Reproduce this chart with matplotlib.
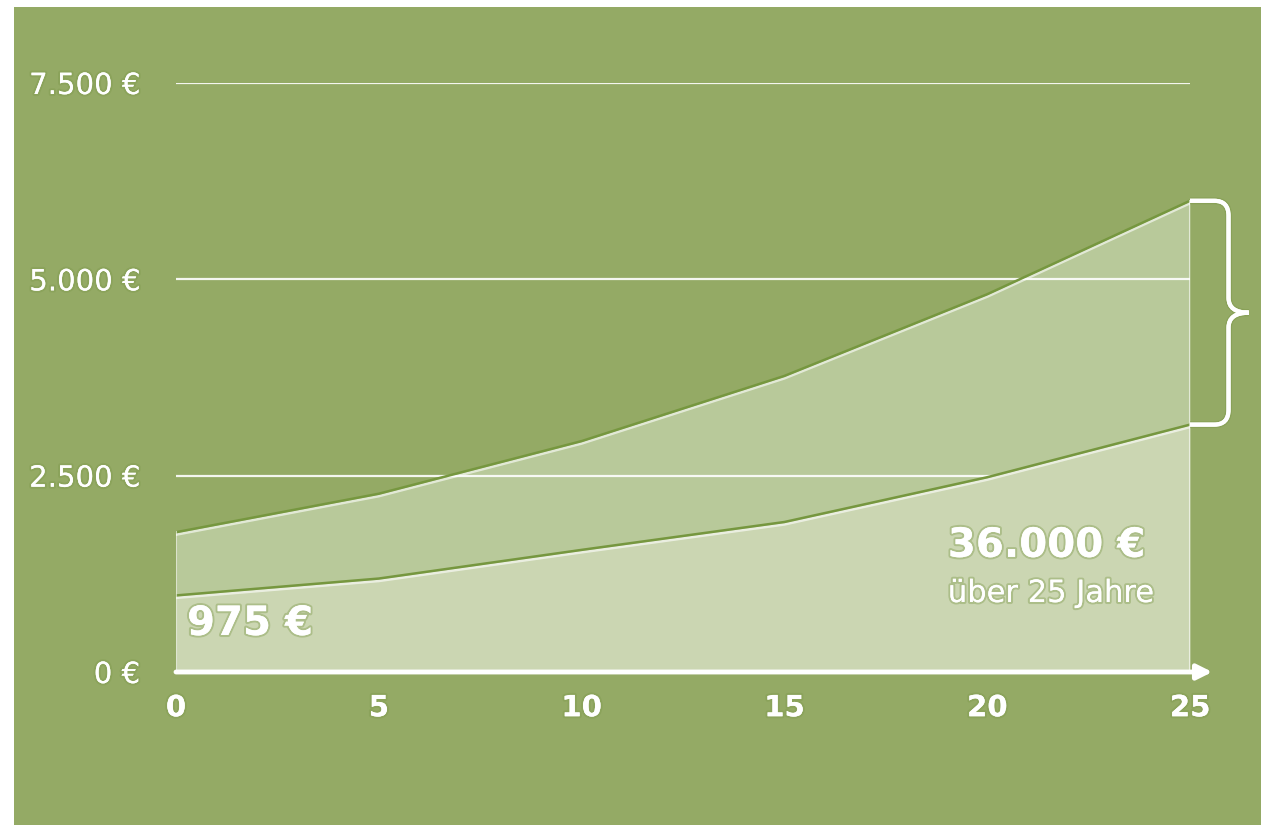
import matplotlib
matplotlib.use('Agg')
import matplotlib.pyplot as plt
import matplotlib.patches as mpatches
import matplotlib.patheffects as pe
from matplotlib.path import Path

# data
YEARS        = [0, 5, 10, 15, 20, 25]
LOWER        = [975, 1190, 1555, 1910, 2480, 3150]
UPPER        = [1780, 2270, 2940, 3770, 4810, 6000]
Y_TICKS      = [0, 2500, 5000, 7500]
Y_LABELS     = ['0 €', '2.500 €', '5.000 €', '7.500 €']
X_TICKS      = [0, 5, 10, 15, 20, 25]
START_LABEL  = '975 €'
TOTAL_LABEL  = '36.000 €'
TOTAL_SUB    = 'über 25 Jahre'

BG       = '#94aa65'
BAND_UP  = '#b8c99a'
BAND_LOW = '#cbd6b2'
EDGE     = '#76973f'
FONT     = ['DejaVu Sans']

glow = [pe.withStroke(linewidth=3, foreground='#7f9a4c', alpha=0.4), pe.Normal()]

fig = plt.figure(figsize=(12.61, 8.25), dpi=100, facecolor='white')
fig.patches.append(mpatches.Rectangle((14 / 1261, 0), 1, 1 - 7 / 825,
                                      transform=fig.transFigure,
                                      facecolor=BG, edgecolor='none', zorder=-10))

ax = fig.add_axes([176 / 1261, 153 / 825, 1014 / 1261, 589 / 825])
ax.set_facecolor('none')
ax.set_xlim(0, 25)
ax.set_ylim(0, 7500)
for s in ax.spines.values():
    s.set_visible(False)

# upper band, grid, lower band
ax.fill_between(YEARS, LOWER, UPPER, color=BAND_UP, lw=0, zorder=1)
for v in Y_TICKS[1:]:
    ax.plot([0, 25], [v, v], color='white', lw=1.6, alpha=0.9, zorder=2,
            solid_capstyle='butt')
ax.fill_between(YEARS, 0, LOWER, color=BAND_LOW, lw=0, zorder=3)

edge_fx = [pe.SimpleLineShadow(offset=(0, -1.8), shadow_color='white', alpha=0.6),
           pe.Normal()]
ax.plot(YEARS, UPPER, color=EDGE, lw=1.8, zorder=4, path_effects=edge_fx)
ax.plot(YEARS, LOWER, color=EDGE, lw=1.8, zorder=4, path_effects=edge_fx)
ax.plot([0, 0], [0, UPPER[0]], color='white', lw=1.5, alpha=0.6, zorder=4)
ax.plot([25, 25], [0, UPPER[-1]], color='white', lw=1.5, alpha=0.6, zorder=4)

# x axis arrow
ax.annotate('', xy=(25.55, 0), xytext=(0, 0),
            arrowprops=dict(arrowstyle='-|>,head_length=0.9,head_width=0.45',
                            color='white', lw=3.5, shrinkA=0, shrinkB=0),
            annotation_clip=False, zorder=6)

# brace between the two end values
top, bot = UPPER[-1], LOWER[-1]
mid = (top + bot) / 2
xv, xt = 25.95, 26.45
rx, ry = 0.35, 190
verts = [(25, top), (xv - rx, top), (xv, top), (xv, top - ry),
         (xv, mid + ry), (xv, mid), (xt, mid),
         (xv, mid), (xv, mid - ry),
         (xv, bot + ry), (xv, bot), (xv - rx, bot), (25, bot)]
codes = [Path.MOVETO, Path.LINETO, Path.CURVE3, Path.CURVE3,
         Path.LINETO, Path.CURVE3, Path.CURVE3,
         Path.CURVE3, Path.CURVE3,
         Path.LINETO, Path.CURVE3, Path.CURVE3, Path.LINETO]
brace = mpatches.PathPatch(Path(verts, codes), facecolor='none', edgecolor='white',
                           lw=3, clip_on=False, zorder=6,
                           path_effects=[pe.withStroke(linewidth=5, foreground='#7f9a4c',
                                                       alpha=0.5), pe.Normal()])
ax.add_patch(brace)

# ticks
ax.set_yticks(Y_TICKS)
ax.set_yticklabels(Y_LABELS)
ax.set_xticks(X_TICKS)
ax.set_xticklabels([str(t) for t in X_TICKS])
ax.tick_params(axis='y', length=0, pad=26, labelsize=21, labelcolor='white')
ax.tick_params(axis='x', length=0, pad=16, labelsize=21, labelcolor='white')
for lab in ax.get_yticklabels():
    lab.set_family(FONT)
    lab.set_path_effects(glow)
for lab in ax.get_xticklabels():
    lab.set_family(FONT)
    lab.set_fontweight('bold')
    lab.set_path_effects(glow)

# annotations
ax.text(0.27, 612, START_LABEL, color='white', fontsize=29, fontweight='bold',
        family=FONT, va='center', ha='left', zorder=7, path_effects=glow)
ax.text(19.03, 1607, TOTAL_LABEL, color='white', fontsize=29, fontweight='bold',
        family=FONT, va='center', ha='left', zorder=7, path_effects=glow)
ax.text(19.03, 1000, TOTAL_SUB, color='white', fontsize=22,
        family=FONT, va='center', ha='left', zorder=7, path_effects=glow)

fig.savefig('out.png', dpi=100, facecolor=fig.get_facecolor())
